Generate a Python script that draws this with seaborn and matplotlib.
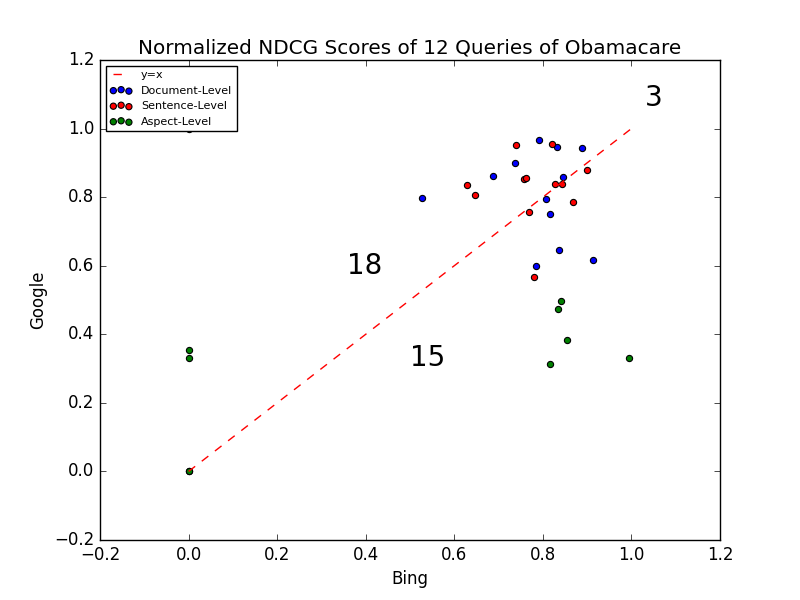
import matplotlib
matplotlib.use("Agg")
import matplotlib.pyplot as plt
import seaborn as sns

# Puntuaciones NDCG normalizadas (Bing, Google) por nivel
doc_bing = [0.527, 0.792, 0.833, 0.889, 0.738, 0.688, 0.846, 0.806, 0.815, 0.837, 0.914, 0.784]
doc_google = [0.797, 0.966, 0.946, 0.943, 0.901, 0.861, 0.859, 0.794, 0.751, 0.646, 0.617, 0.600]

sent_bing = [0.740, 0.821, 0.628, 0.647, 0.757, 0.763, 0.827, 0.844, 0.900, 0.868, 0.769, 0.780, 0.0]
sent_google = [0.952, 0.955, 0.835, 0.806, 0.852, 0.855, 0.837, 0.837, 0.878, 0.786, 0.757, 0.567, 0.0]

asp_bing = [0.841, 0.835, 0.855, 0.815, 0.995, 0.0, 0.0, 0.0, 0.0]
asp_google = [0.498, 0.473, 0.384, 0.313, 0.331, 0.355, 0.332, 0.0, 1.0]

diag = [0.0, 1.0]

# Conteos de regiones
region_labels = ["3", "18", "15"]
region_x = [1.051, 0.398, 0.539]
region_y = [1.088, 0.600, 0.332]

plt.style.use("classic")
fig, ax = plt.subplots(figsize=(8, 6), dpi=100)

ax.plot(diag, diag, "r--", label="y=x")
sns.scatterplot(x=doc_bing, y=doc_google, color="b", edgecolor="black", s=20, linewidth=0.8, label="Document-Level", ax=ax)
sns.scatterplot(x=sent_bing, y=sent_google, color="r", edgecolor="black", s=20, linewidth=0.8, label="Sentence-Level", ax=ax)
sns.scatterplot(x=asp_bing, y=asp_google, color="g", edgecolor="black", s=20, linewidth=0.8, label="Aspect-Level", ax=ax)

for lab, tx, ty in zip(region_labels, region_x, region_y):
    ax.text(tx, ty, lab, fontsize=20, ha="center", va="center")

ax.set_xlim(-0.2, 1.2)
ax.set_ylim(-0.2, 1.2)
ax.set_title("Normalized NDCG Scores of 12 Queries of Obamacare")
ax.set_xlabel("Bing")
ax.set_ylabel("Google")
ax.legend(loc="upper left", fontsize=8, scatterpoints=3)

plt.savefig("out.png", dpi=100)
